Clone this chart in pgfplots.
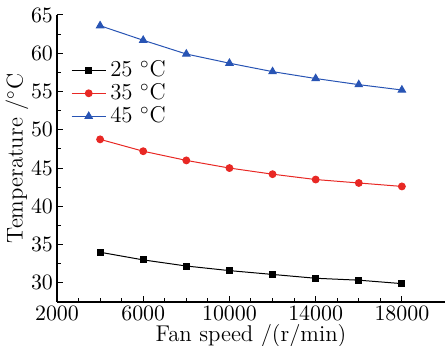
\documentclass[border=0pt]{standalone}
\usepackage{pgfplots}
\pgfplotsset{compat=1.18}
\definecolor{myred}{RGB}{232,40,36}
\definecolor{myblue}{RGB}{40,84,180}
\begin{document}
\begin{tikzpicture}
\useasboundingbox (-28.5pt,-22pt) rectangle (194pt,151pt);
\begin{axis}[
  scale only axis,
  width=194pt, height=143.5pt,
  xmin=2000, xmax=20000, ymin=27.5, ymax=65,
  axis x line*=bottom, axis y line*=left,
  axis line style={-, line width=0.6pt},
  xtick={2000,6000,10000,14000,18000},
  ytick={30,35,40,45,50,55,60,65},
  minor x tick num=3, minor y tick num=1,
  tick align=inside,
  major tick length=3pt, minor tick length=1.8pt,
  tick style={line width=0.5pt, black},
  scaled x ticks=false,
  xticklabel style={/pgf/number format/1000 sep=},
  font=\fontsize{11.4}{13}\selectfont,
  xticklabel style={yshift=1.5pt},
  yticklabel style={xshift=1.5pt},
  xlabel={Fan speed /(r/min)},
  ylabel={Temperature /$^{\circ}$C},
  xlabel style={yshift=5pt},
  ylabel style={yshift=-5.5pt},
  legend style={draw=none, fill=none, at={(0.02,0.87)}, anchor=north west,
    font=\fontsize{11.4}{13}\selectfont, row sep=-2pt,
    legend cell align=left},
]
\addplot[black, line width=0.5pt, mark=square*, mark size=1.5pt, mark options={solid}]
coordinates {(4000,34.0) (6000,33.0) (8000,32.2) (10000,31.6) (12000,31.1) (14000,30.6) (16000,30.35) (18000,29.9)};
\addlegendentry{25 $^{\circ}$C}
\addplot[myred, line width=0.5pt, mark=*, mark size=1.7pt]
coordinates {(4000,48.75) (6000,47.2) (8000,46.0) (10000,45.0) (12000,44.2) (14000,43.5) (16000,43.05) (18000,42.6)};
\addlegendentry{35 $^{\circ}$C}
\addplot[myblue, line width=0.5pt, mark=triangle*, mark size=2.1pt]
coordinates {(4000,63.6) (6000,61.7) (8000,59.9) (10000,58.7) (12000,57.6) (14000,56.7) (16000,55.9) (18000,55.2)};
\addlegendentry{45 $^{\circ}$C}
\end{axis}
\end{tikzpicture}
\end{document}
